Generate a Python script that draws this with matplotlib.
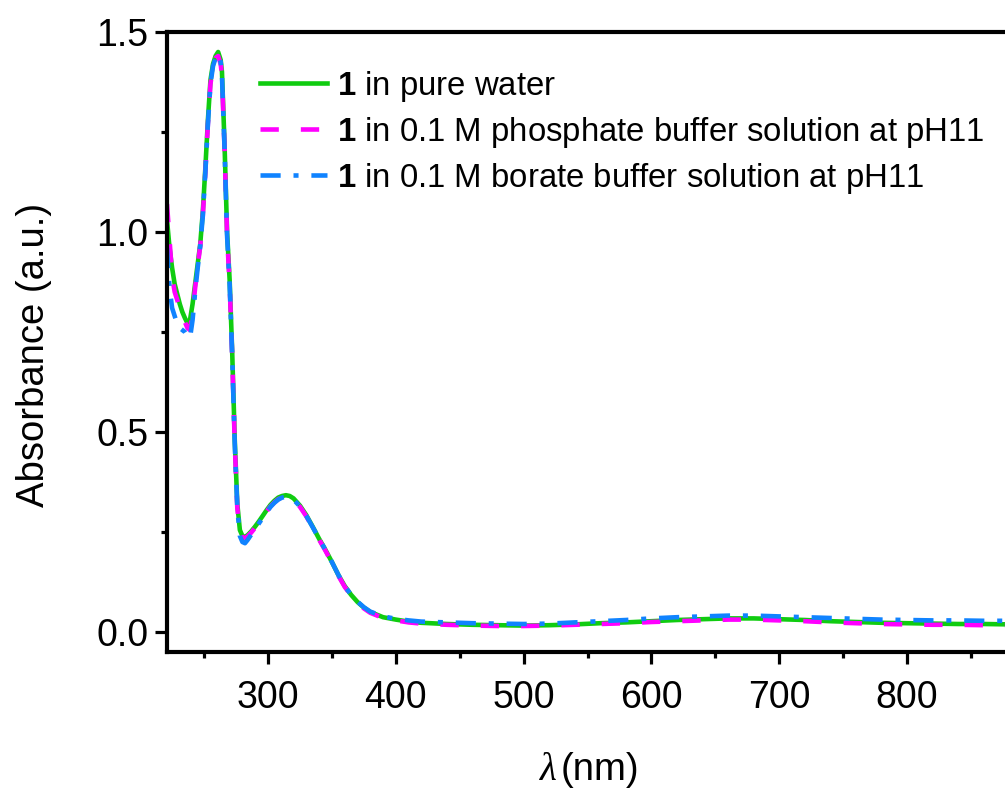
import matplotlib
matplotlib.use("Agg")
import matplotlib.pyplot as plt
from matplotlib.lines import Line2D

plt.rcParams["font.family"] = ["Liberation Sans", "DejaVu Sans"]
plt.rcParams["mathtext.fontset"] = "custom"
plt.rcParams["mathtext.rm"] = "Liberation Sans"
plt.rcParams["mathtext.bf"] = "Liberation Sans:bold"

# wavelength grid (nm)
wavelength = [221, 223, 225, 227, 229, 231, 233, 235, 237, 239, 241, 243, 245, 247,
              249, 251, 253, 255, 257, 259, 261, 263, 264, 266, 268, 270, 272, 274,
              276, 278, 280, 282, 284, 287, 290, 293, 296, 299, 302, 305, 308, 311,
              314, 317, 320, 325, 330, 335, 340, 345, 350, 355, 360, 365, 370, 375,
              380, 390, 400, 410, 420, 440, 460, 480, 500, 520, 540, 560, 580, 600,
              620, 640, 660, 680, 700, 720, 740, 760, 780, 800, 820, 840, 860, 880]

abs_water = [1.03, 0.96, 0.91, 0.87, 0.845, 0.82, 0.80, 0.785, 0.772, 0.78, 0.82, 0.87,
             0.92, 0.97, 1.05, 1.16, 1.28, 1.38, 1.42, 1.44, 1.45, 1.43, 1.40, 1.22,
             1.00, 0.88, 0.70, 0.48, 0.32, 0.255, 0.240, 0.238, 0.242, 0.252, 0.264,
             0.277, 0.291, 0.305, 0.318, 0.328, 0.336, 0.340, 0.342, 0.340, 0.334,
             0.316, 0.292, 0.263, 0.233, 0.205, 0.175, 0.143, 0.115, 0.093, 0.075,
             0.061, 0.050, 0.037, 0.031, 0.026, 0.023, 0.020, 0.018, 0.017, 0.016,
             0.017, 0.019, 0.022, 0.024, 0.027, 0.030, 0.032, 0.034, 0.034, 0.032,
             0.030, 0.027, 0.025, 0.023, 0.022, 0.021, 0.020, 0.020, 0.019]

abs_phosphate = [1.07, 0.98, 0.89, 0.85, 0.83, 0.81, 0.79, 0.775, 0.76, 0.755, 0.80, 0.86,
                 0.915, 0.965, 1.04, 1.15, 1.27, 1.37, 1.415, 1.435, 1.44, 1.42, 1.39, 1.21,
                 0.99, 0.87, 0.69, 0.47, 0.31, 0.25, 0.236, 0.235, 0.239, 0.249, 0.261,
                 0.274, 0.288, 0.302, 0.314, 0.324, 0.332, 0.336, 0.338, 0.336, 0.330,
                 0.313, 0.289, 0.261, 0.231, 0.203, 0.173, 0.141, 0.113, 0.091, 0.073,
                 0.059, 0.048, 0.035, 0.029, 0.024, 0.021, 0.018, 0.016, 0.015, 0.015,
                 0.016, 0.018, 0.020, 0.022, 0.025, 0.027, 0.029, 0.031, 0.031, 0.029,
                 0.027, 0.024, 0.022, 0.020, 0.019, 0.018, 0.018, 0.017, 0.017]

abs_borate = [0.96, 0.86, 0.81, 0.79, 0.77, 0.76, 0.755, 0.75, 0.74, 0.735, 0.78, 0.85,
              0.91, 0.965, 1.04, 1.15, 1.27, 1.37, 1.415, 1.435, 1.445, 1.425, 1.39, 1.21,
              0.99, 0.87, 0.69, 0.47, 0.31, 0.24, 0.225, 0.222, 0.230, 0.244, 0.258,
              0.272, 0.286, 0.300, 0.313, 0.323, 0.331, 0.336, 0.338, 0.336, 0.331,
              0.314, 0.290, 0.262, 0.233, 0.205, 0.175, 0.143, 0.115, 0.093, 0.076,
              0.062, 0.051, 0.039, 0.033, 0.029, 0.026, 0.024, 0.022, 0.021, 0.020,
              0.021, 0.024, 0.027, 0.030, 0.034, 0.037, 0.039, 0.041, 0.041, 0.039,
              0.037, 0.035, 0.033, 0.031, 0.030, 0.029, 0.029, 0.028, 0.028]

labels = [r"$\mathbf{1}$ in pure water",
          r"$\mathbf{1}$ in 0.1 M phosphate buffer solution at pH11",
          r"$\mathbf{1}$ in 0.1 M borate buffer solution at pH11"]

green = "#10cc10"
magenta = "#ff00ff"
blue = "#1083ff"

W, H = 1005, 789
fig = plt.figure(figsize=(W / 100, H / 100), dpi=100)
# right part of the axes runs past the figure edge, as in the original
ax = fig.add_axes([167 / W, (H - 652) / H, 868 / W, 620 / H])

lw = 3.3
dash_ph = (4.0, 4.8)
dash_bo = (4.4, 2.8, 1.1, 2.8)
ax.plot(wavelength, abs_water, color=green, lw=lw, solid_joinstyle="round")
ax.plot(wavelength, abs_phosphate, color=magenta, lw=lw, dashes=dash_ph)
ax.plot(wavelength, abs_borate, color=blue, lw=lw, dashes=dash_bo)

ax.set_xlim(221, 900)
ax.set_ylim(-0.05, 1.5)
ax.set_xticks([300, 400, 500, 600, 700, 800])
ax.set_xticks([250, 350, 450, 550, 650, 750, 850], minor=True)
ax.set_yticks([0.0, 0.5, 1.0, 1.5])
ax.set_yticks([0.25, 0.75, 1.25], minor=True)
ax.set_yticklabels(["0.0", "0.5", "1.0", "1.5"])

for side in ["left", "bottom", "top"]:
    ax.spines[side].set_linewidth(3.0)
ax.spines["right"].set_visible(False)

ax.tick_params(which="major", direction="out", length=8.5, width=2.3, labelsize=27)
ax.tick_params(which="minor", direction="out", length=4.5, width=2.3)
ax.tick_params(axis="x", which="major", pad=12)
ax.tick_params(axis="y", which="major", pad=5)

fig.text(34 / W, 1 - 355 / H, "Absorbance (a.u.)", rotation=90, ha="center",
         va="center", fontsize=27.5)
fig.text(557 / W, 1 - 770 / H, "\u03bb", family="Liberation Serif", style="italic",
         ha="right", va="center", fontsize=28)
fig.text(561 / W, 1 - 770 / H, "(nm)", ha="left", va="center", fontsize=27.5)

handles = [
    Line2D([], [], color=green, lw=lw),
    Line2D([], [], color=magenta, lw=lw, dashes=dash_ph),
    Line2D([], [], color=blue, lw=lw, dashes=dash_bo),
]
fig.legend(handles, labels, loc="upper left", bbox_to_anchor=(260 / W, 1 - 69 / H),
           frameon=False, fontsize=23.7, handlelength=2.05, handletextpad=0.3,
           labelspacing=0.33, borderpad=0, borderaxespad=0)

fig.savefig("out.png", dpi=100)
